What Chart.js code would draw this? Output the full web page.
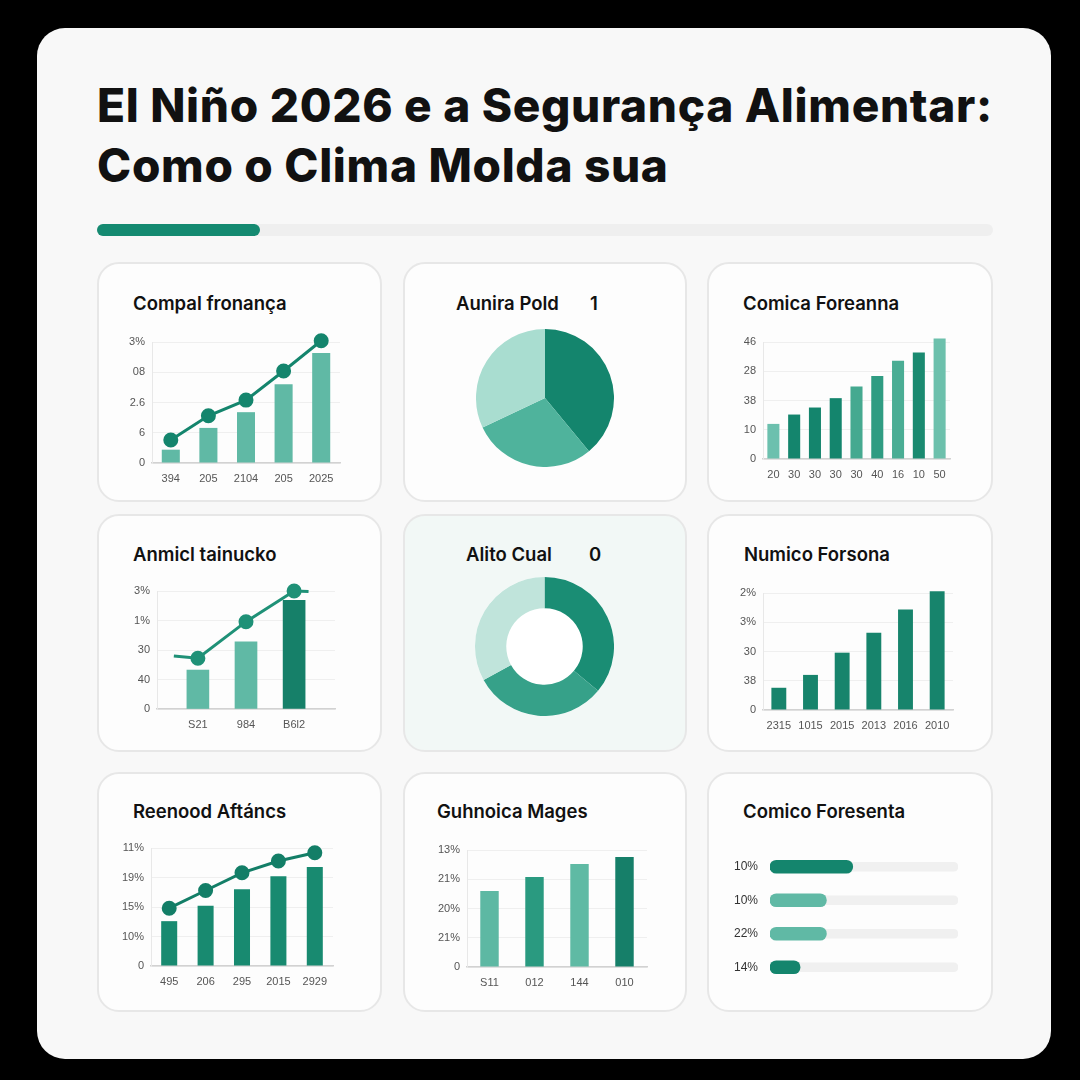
<!DOCTYPE html>
<html lang="pt">
<head>
<meta charset="utf-8">
<title>El Niño 2026 e a Segurança Alimentar</title>
<script src="https://cdn.jsdelivr.net/npm/chart.js@4.4.1/dist/chart.umd.min.js"></script>
<style>
  html, body { margin: 0; padding: 0; }
  body { width: 1080px; height: 1080px; background: #000; position: relative; overflow: hidden; font-family: Inter, "Noto Sans", sans-serif; }
  .sheet { position: absolute; left: 37px; top: 28px; width: 1014px; height: 1031px; background: #f8f8f8; border-radius: 28px; }
  h1 { position: absolute; left: 97px; top: 75px; margin: 0; font-family: Inter, sans-serif; font-weight: 800; font-size: 46px; line-height: 60px; color: #111; white-space: nowrap; }
  .progress { position: absolute; left: 97px; top: 224px; width: 896px; height: 12px; border-radius: 6px; background: #efefef; }
  .progress span { position: absolute; left: 0; top: 0; width: 163px; height: 12px; border-radius: 6px; background: #158a71; }
  .card { position: absolute; background: #fdfdfd; border: 2px solid #e7e7e7; border-radius: 22px; box-sizing: border-box; }
  .card.tint { background: #f2f8f6; }
  .ct { position: absolute; font-size: 18.5px; font-weight: 600; line-height: 20px; color: #111; white-space: nowrap; }
  canvas { position: absolute; }
</style>
</head>
<body>
<div class="sheet"></div>
<h1 id="title">El Niño 2026 e a Segurança Alimentar:<br>Como o Clima Molda sua</h1>
<div class="progress"><span></span></div>

<div class="card" style="left:97px;top:262px;width:285px;height:240px"></div>
<div class="card" style="left:403px;top:262px;width:284px;height:240px"></div>
<div class="card" style="left:707px;top:262px;width:286px;height:240px"></div>
<div class="card" style="left:97px;top:514px;width:285px;height:238px"></div>
<div class="card tint" style="left:403px;top:514px;width:284px;height:238px"></div>
<div class="card" style="left:707px;top:514px;width:286px;height:238px"></div>
<div class="card" style="left:97px;top:772px;width:285px;height:240px"></div>
<div class="card" style="left:403px;top:772px;width:284px;height:240px"></div>
<div class="card" style="left:707px;top:772px;width:286px;height:240px"></div>

<div class="ct" style="left:133px;top:293px">Compal fronança</div>
<div class="ct" style="left:456px;top:293px">Aunira Pold</div>
<div class="ct" style="left:590px;top:293px">1</div>
<div class="ct" style="left:743px;top:293px">Comica Foreanna</div>
<div class="ct" style="left:133px;top:544px">Anmicl tainucko</div>
<div class="ct" style="left:466px;top:544px">Alito Cual</div>
<div class="ct" style="left:589px;top:544px">0</div>
<div class="ct" style="left:744px;top:544px">Numico Forsona</div>
<div class="ct" style="left:133px;top:801px">Reenood Aftáncs</div>
<div class="ct" style="left:437px;top:801px">Guhnoica Mages</div>
<div class="ct" style="left:743px;top:801px">Comico Foresenta</div>

<canvas id="c1" width="229" height="161" style="left:125px;top:330px"></canvas>
<canvas id="c2" width="138" height="138" style="left:476px;top:329px"></canvas>
<canvas id="c3" width="226" height="157" style="left:739px;top:330px"></canvas>
<canvas id="c4" width="215" height="158" style="left:132px;top:579px"></canvas>
<canvas id="c5" width="139" height="139" style="left:475px;top:577px"></canvas>
<canvas id="c6" width="226" height="157" style="left:739px;top:581px"></canvas>
<canvas id="c7" width="227" height="158" style="left:118px;top:836px"></canvas>
<canvas id="c8" width="222" height="157" style="left:437px;top:838px"></canvas>
<canvas id="c9" width="228" height="134" style="left:730px;top:850px"></canvas>

<script>
// Dados de cada painel (escala 0-100)
const labels1 = ['394', '205', '2104', '205', '2025'];
const bars1 = [11, 29, 42, 65, 91];
const line1 = [19, 39, 52, 76, 101];
const yTicks1 = ['3%', '08', '2.6', '6', '0'];

const labels2 = ['A', 'B', 'C'];
const pie2 = [39, 29, 32];

const labels3 = ['20', '30', '30', '30', '30', '40', '16', '10', '50'];
const bars3 = [30, 38, 44, 52, 62, 71, 84, 91, 103];
const yTicks3 = ['46', '28', '38', '10', '0'];

const labels4 = ['S21', '984', 'B6l2'];
const bars4 = [33, 57, 92];
const line4X = [-0.5, 0, 1, 2, 2.3];
const line4 = [45, 43, 74, 100, 99.5];
const yTicks4 = ['3%', '1%', '30', '40', '0'];

const labels5 = ['A', 'B', 'C'];
const donut5 = [36, 31, 33];

const labels6 = ['2315', '1015', '2015', '2013', '2016', '2010'];
const bars6 = [19, 30, 49, 66, 86, 101.5];
const yTicks6 = ['2%', '3%', '30', '38', '0'];

const labels7 = ['495', '206', '295', '2015', '2929'];
const bars7 = [38, 51, 65, 76, 84];
const line7 = [49, 64, 79, 89, 96];
const yTicks7 = ['11%', '19%', '15%', '10%', '0'];

const labels8 = ['S11', '012', '144', '010'];
const bars8 = [65, 77, 88, 94];
const yTicks8 = ['13%', '21%', '20%', '21%', '0'];

const labels9 = ['10%', '10%', '22%', '14%'];
const bars9 = [44, 30, 30, 16];

// Cores
const dark = '#14856d';
const light = '#60b9a5';
const pale = '#a9ddd0';
const gridColor = '#efefef';
const axisColor = '#d2d2d2';
const tickFont = { family: 'Liberation Sans', size: 11 };
const tickColor = '#555';

// Ajusta o titulo para ocupar a mesma largura da imagem
(function fitTitle() {
    const ctx = document.createElement('canvas').getContext('2d');
    ctx.font = '800 46px Inter';
    const line = 'El Niño 2026 e a Segurança Alimentar:';
    const w = ctx.measureText(line).width;
    document.getElementById('title').style.letterSpacing = ((896 - w) / line.length) + 'px';
})();

Chart.defaults.animation = false;
Chart.defaults.responsive = false;
Chart.defaults.plugins.legend.display = false;
Chart.defaults.plugins.tooltip.enabled = false;

// largura fixa do eixo y, sem margem extra em cima/baixo
function fixY(w) {
    return s => { s.width = w; s.paddingTop = 0; s.paddingBottom = 0; };
}

// Opcoes comuns dos graficos cartesianos
function cartesian(yTicks, yW, xH, padTop, padRight) {
    return {
        layout: { padding: { top: padTop, right: padRight, left: 0, bottom: 0 } },
        scales: {
            x: {
                grid: { display: false, drawTicks: false },
                border: { color: axisColor, width: 1.5 },
                ticks: { color: tickColor, font: tickFont, padding: 9, maxRotation: 0, autoSkip: false },
                afterFit: s => { s.height = xH; }
            },
            y: {
                min: 0, max: 100,
                grid: { color: gridColor, drawTicks: false },
                border: { color: '#e8e8e8' },
                ticks: {
                    stepSize: 25, color: tickColor, font: tickFont, padding: 7,
                    callback: (v, i) => yTicks[yTicks.length - 1 - i]
                },
                afterFit: fixY(yW)
            }
        }
    };
}

function lineSet(data, color) {
    return {
        type: 'line', data: data, borderColor: color, backgroundColor: color,
        borderWidth: 3, pointRadius: 6, pointHoverRadius: 6, tension: 0, clip: false
    };
}

// furo branco da rosca
const whiteHole = {
    id: 'whiteHole',
    beforeDatasetsDraw(chart) {
        const arc = chart.getDatasetMeta(0).data[0];
        if (!arc) return;
        const ctx = chart.ctx;
        ctx.save();
        ctx.fillStyle = '#ffffff';
        ctx.beginPath();
        ctx.arc(arc.x, arc.y, arc.outerRadius, 0, Math.PI * 2);
        ctx.fill();
        ctx.restore();
    }
};

// 1 - barras + linha
new Chart(document.getElementById('c1'), {
    type: 'bar',
    data: {
        labels: labels1,
        datasets: [
            lineSet(line1, dark),
            { data: bars1, backgroundColor: light, barPercentage: 0.48, categoryPercentage: 1 }
        ]
    },
    options: cartesian(yTicks1, 27, 28, 12, 14)
});

// 2 - pizza
new Chart(document.getElementById('c2'), {
    type: 'pie',
    data: { labels: labels2, datasets: [{ data: pie2, backgroundColor: [dark, '#4fb39c', pale], borderWidth: 0 }] },
    options: { layout: { padding: 0 } }
});

// 3 - barras
new Chart(document.getElementById('c3'), {
    type: 'bar',
    data: {
        labels: labels3,
        datasets: [{
            data: bars3, clip: false, barPercentage: 0.58, categoryPercentage: 1,
            backgroundColor: ['#6cc0ae', dark, dark, dark, '#45a990', '#2f9c82', '#4aad94', '#1a8a70', '#6cc0ac']
        }]
    },
    options: cartesian(yTicks3, 24, 28, 12, 15)
});

// 4 - barras + linha em eixo linear
const opt4 = cartesian(yTicks4, 25, 28, 12, 12);
Object.assign(opt4.scales.x, { type: 'linear', min: -0.85, max: 2.85, offset: false });
opt4.scales.x.afterBuildTicks = s => { s.ticks = labels4.map((l, i) => ({ value: i })); };
opt4.scales.x.ticks.callback = v => labels4[v] !== undefined ? labels4[v] : '';
new Chart(document.getElementById('c4'), {
    type: 'bar',
    data: {
        datasets: [
            Object.assign(lineSet(line4.map((y, i) => ({ x: line4X[i], y: y })), '#1f9177'), {
                pointRadius: line4.map((y, i) => (i === 0 || i === line4.length - 1) ? 0 : 6)
            }),
            {
                data: bars4.map((y, i) => ({ x: i, y: y })), barThickness: 22,
                backgroundColor: [light, light, '#168069']
            }
        ]
    },
    options: opt4
});

// 5 - rosca
new Chart(document.getElementById('c5'), {
    type: 'doughnut',
    data: { labels: labels5, datasets: [{ data: donut5, backgroundColor: ['#1a8d74', '#36a189', '#c0e4db'], borderWidth: 0 }] },
    options: { cutout: '55%', layout: { padding: 0 } },
    plugins: [whiteHole]
});

// 6 - barras
new Chart(document.getElementById('c6'), {
    type: 'bar',
    data: { labels: labels6, datasets: [{ data: bars6, clip: false, backgroundColor: '#17846c', barPercentage: 0.47, categoryPercentage: 1 }] },
    options: cartesian(yTicks6, 24, 28, 12, 12)
});

// 7 - barras + linha
new Chart(document.getElementById('c7'), {
    type: 'bar',
    data: {
        labels: labels7,
        datasets: [
            lineSet(line7, '#137e67'),
            { data: bars7, backgroundColor: '#188a70', barPercentage: 0.44, categoryPercentage: 1 }
        ]
    },
    options: cartesian(yTicks7, 33, 28, 12, 12)
});

// 8 - barras
new Chart(document.getElementById('c8'), {
    type: 'bar',
    data: {
        labels: labels8,
        datasets: [{
            data: bars8, barPercentage: 0.41, categoryPercentage: 1,
            backgroundColor: ['#5db8a3', '#2a9a80', '#5fbaa4', '#167f69']
        }]
    },
    options: cartesian(yTicks8, 30, 28, 12, 12)
});

// 9 - barras horizontais de progresso (eixo linear para posicionar as linhas)
new Chart(document.getElementById('c9'), {
    type: 'bar',
    data: {
        datasets: [
            {
                data: bars9.map((v, i) => ({ x: v, y: i })), grouped: false, barThickness: 13,
                borderRadius: 7, borderSkipped: false,
                backgroundColor: [dark, light, light, dark]
            },
            {
                data: bars9.map((v, i) => ({ x: 100, y: i })), grouped: false, barThickness: 9,
                borderRadius: 5, borderSkipped: false,
                backgroundColor: '#f0f0f0'
            }
        ]
    },
    options: {
        indexAxis: 'y',
        layout: { padding: 0 },
        scales: {
            x: { display: false, min: 0, max: 100, offset: false },
            y: {
                type: 'linear', min: -0.5, max: 3.5, reverse: true, offset: false,
                grid: { display: false, drawTicks: false },
                border: { display: false },
                afterBuildTicks: s => { s.ticks = labels9.map((l, i) => ({ value: i })); },
                ticks: {
                    color: '#333', padding: 12,
                    font: { family: 'Liberation Sans', size: 12 },
                    callback: v => labels9[v] !== undefined ? labels9[v] : ''
                },
                afterFit: fixY(40)
            }
        }
    }
});
</script>
</body>
</html>
